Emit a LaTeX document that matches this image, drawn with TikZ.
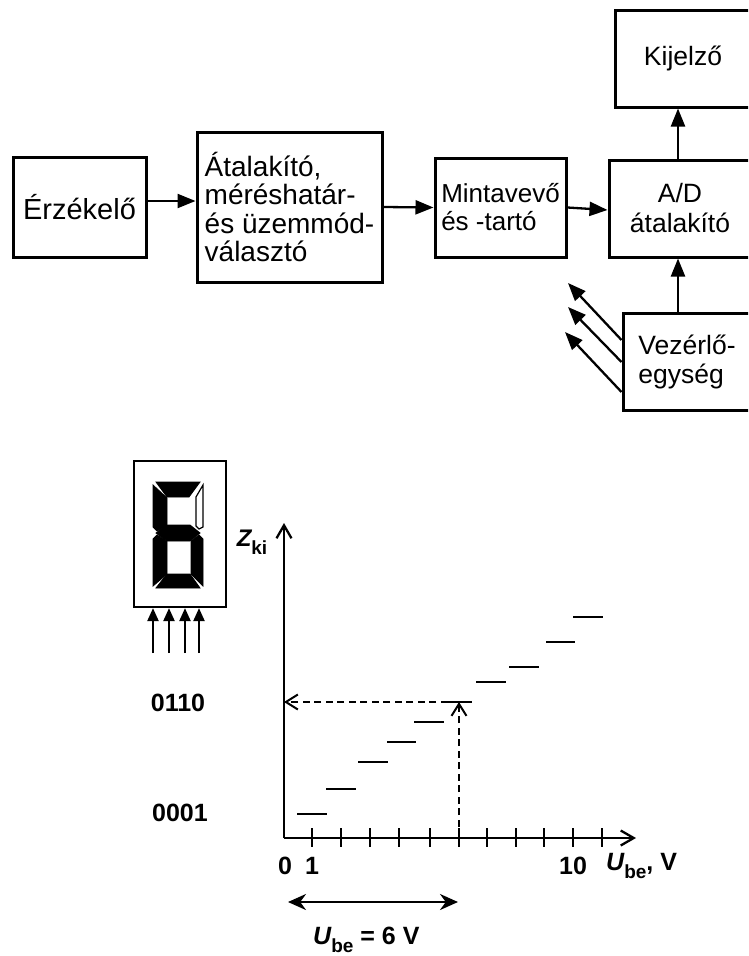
\documentclass[tikz,border=0pt]{standalone}
\usepackage{fontspec}
\setmainfont{Liberation Sans}
\usetikzlibrary{arrows.meta}
\begin{document}
\begin{tikzpicture}[x=1pt,y=-1pt,
  blk/.style={draw,line width=3pt,inner sep=0pt,align=left},
  conn/.style={line width=2.3pt,-{Triangle[length=18pt,width=14pt]}},
  smallarr/.style={line width=2.2pt,-{Triangle[length=13pt,width=11pt]}},
  axis/.style={line width=2.3pt,-{Straight Barb[length=13pt,width=15pt,line width=2.3pt]}},
  dsh/.style={line width=2pt,dash pattern=on 7pt off 4.5pt,-{Straight Barb[length=12pt,width=15pt,line width=2pt]}},
  tick/.style={line width=2.2pt},
  stepline/.style={line width=2.5pt},
  seg/.style={fill=black,draw=black,line width=0.8pt,line join=miter},
  lbl/.style={inner sep=0pt,font=\fontsize{25}{25}\selectfont\bfseries},
  dbl/.style={line width=2.6pt,{Stealth[length=18pt,width=16pt]}-{Stealth[length=18pt,width=16pt]}}
]
\useasboundingbox (0,0) rectangle (748,956);
\clip (0,0) rectangle (748,956);

% ---------------- block diagram ----------------
\node[blk,minimum width=133pt,minimum height=100pt,font=\fontsize{29}{29}\selectfont] (erz) at (79.5,207) {Érzékelő};
\node[blk,minimum width=185pt,minimum height=150pt,font=\fontsize{28}{28.5}\selectfont] (ata) at (289.5,207) {Átalakító,\\méréshatár-\\és üzemmód-\\választó};
\node[blk,minimum width=131pt,minimum height=99pt,font=\fontsize{26}{28}\selectfont] (mint) at (500.5,207.5) {Mintavevő\\és -tartó};
\node[blk,minimum width=142pt,minimum height=97pt,align=center,font=\fontsize{26.5}{30}\selectfont] (ad) at (680,208.5) {A/D\\átalakító};
\node[blk,minimum width=136pt,minimum height=97pt,font=\fontsize{26.5}{29}\selectfont] (kij) at (683,58.5) {Kijelző};
\node[blk,minimum width=128pt,minimum height=97pt,font=\fontsize{26.5}{29}\selectfont] (vez) at (687,361.5) {Vezérlő-\\egység};

\draw[conn] ([yshift=6pt]erz.east) -- ([yshift=6pt]ata.west);
\draw[conn] (ata.east) -- (mint.west);
\draw[conn] (mint.east) -- ([yshift=-1.5pt]ad.west);
\draw[conn] ([xshift=-2pt]ad.north) -- ([xshift=-2pt]ad.north |- kij.south);
\draw[conn] ([xshift=-2pt]vez.north -| ad.north) -- ([xshift=-2pt]ad.south);

\coordinate (c1) at (568,283);
\coordinate (c2) at (568,307);
\coordinate (c3) at (565,332);
\draw[conn] ([yshift=21.5pt]vez.west) -- (c1);
\draw[conn] ([yshift=-0.5pt]vez.west) -- (c2);
\draw[conn] ([yshift=-30.5pt]vez.west) -- (c3);

% ---------------- seven-segment display ----------------
\node[draw,line width=2.2pt,minimum width=92pt,minimum height=146pt,inner sep=0pt] (disp) at (180,534) {};
% digit "6"
\fill[seg] (156,482) -- (200,482) -- (189,497) -- (167,497) -- cycle;            % a
\fill[seg] (153,485) -- (167,498) -- (167,526) -- (157,531) -- (153,527) -- cycle; % f
\fill[seg] (156,533) -- (167,525) -- (190,525) -- (200,533) -- (190,541) -- (167,541) -- cycle; % g
\fill[seg] (153,539) -- (157,535) -- (167,541) -- (167,574) -- (153,586) -- cycle; % e
\fill[seg] (203,539) -- (199,535) -- (191,541) -- (191,574) -- (203,586) -- cycle; % c
\fill[seg] (156,588) -- (167,574) -- (190,574) -- (200,588) -- cycle;            % d
\draw[line width=1.2pt,line join=miter] (203,485) -- (203,527) -- (199,529) -- (196,526) -- (196,497) -- cycle; % b (unlit)

\foreach \i/\x in {1/153,2/169,3/185,4/199}{
  \coordinate (in\i) at (\x,653);
  \draw[smallarr] (in\i) -- (in\i |- disp.south);
}

% ---------------- characteristic ----------------
\coordinate (O) at (284,838);
\coordinate (ytop) at (284,523);
\coordinate (xend) at (636,838);
\draw[axis] (O) -- (ytop);
\draw[axis] (O) -- (xend);

\foreach \x in {312,341,370,399,430,459,487,516,544,573,602}{
  \draw[tick] (\x,828) -- (\x,847);
}

\foreach \a/\b/\y in {297/327/814, 326/356/789, 358/388/762, 387/416/742, 414/444/722,
                      443/472/702, 476/506/682, 509/539/667, 546/575/642, 573/603/617}{
  \draw[stepline] (\a,\y) -- (\b,\y);
}

\coordinate (t6) at (459,838);
\coordinate (p6) at (459,702);
\draw[dsh] (t6) -- (p6);
\draw[dsh] (p6) -- (O |- p6);

% labels
\node[lbl] (zki) at (252,542) {\fontsize{24}{24}\selectfont\itshape Z\raisebox{-0.35em}{\fontsize{19}{19}\selectfont\upshape ki}};
\node[lbl] (l0110) at (178,703) {0110};
\node[lbl] (l0001) at (180,813) {0001};
\node[lbl] (l0) at (285,866) {0};
\node[lbl] (l1) at (312,866) {1};
\node[lbl] (l10) at (573,866) {10};
\node[lbl,anchor=west] (lU) at (606,866) {{\itshape U}\raisebox{-0.3em}{\fontsize{19}{19}\selectfont be}, V};

\coordinate (d1) at (288,902);
\coordinate (d2) at (458,902);
\draw[dbl] (d1) -- (d2);
\node[lbl,anchor=west] (lU6) at (313,940) {{\itshape U}\raisebox{-0.3em}{\fontsize{19}{19}\selectfont be} = 6 V};
\end{tikzpicture}
\end{document}
